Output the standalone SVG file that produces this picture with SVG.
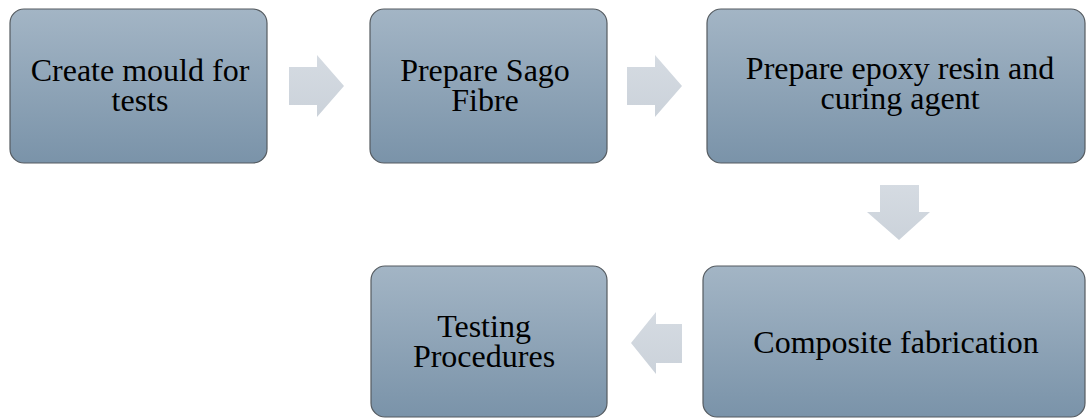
<svg xmlns="http://www.w3.org/2000/svg" width="1086" height="419" viewBox="0 0 1086 419">
<defs>
<linearGradient id="boxg" x1="0" y1="0" x2="0" y2="1">
<stop offset="0" stop-color="#a3b5c5"/>
<stop offset="1" stop-color="#7a93a9"/>
</linearGradient>
<linearGradient id="arrg" x1="0" y1="0" x2="0" y2="1">
<stop offset="0" stop-color="#d5dbe2"/>
<stop offset="1" stop-color="#cbd2da"/>
</linearGradient>
</defs>
<style>
.box{fill:url(#boxg);stroke:#555b60;stroke-width:1.2}
.lbl{font-family:"Liberation Serif","Times New Roman",serif;font-size:32px;fill:#000;text-anchor:middle}
.arr{fill:url(#arrg);stroke:none}
</style>
<rect width="1086" height="419" fill="#ffffff"/>
<g id="connectors">
<polygon class="arr" points="289,67 317,67 317,55 344,86 317,117 317,105 289,105"/>
<polygon class="arr" points="627,67 655,67 655,55 682,86 655,117 655,105 627,105"/>
<polygon class="arr" points="880,185 919,185 919,212 930,212 899,240 867,212 880,212"/>
<polygon class="arr" points="682,324 656,324 656,312 631,343 656,374 656,363 682,363"/>
</g>
<g id="node1">
<rect class="box" x="10" y="9" width="257" height="154" rx="14"/>
<text class="lbl" x="140" y="81">Create mould for</text>
<text class="lbl" x="140" y="111">tests</text>
</g>
<g id="node2">
<rect class="box" x="370" y="9" width="237" height="154" rx="14"/>
<text class="lbl" x="485" y="81">Prepare Sago</text>
<text class="lbl" x="485" y="111">Fibre</text>
</g>
<g id="node3">
<rect class="box" x="707" y="9" width="378" height="154" rx="14"/>
<text class="lbl" x="900" y="79">Prepare epoxy resin and</text>
<text class="lbl" x="900" y="109">curing agent</text>
</g>
<g id="node4">
<rect class="box" x="703" y="266" width="382" height="151" rx="14"/>
<text class="lbl" x="896" y="353">Composite fabrication</text>
</g>
<g id="node5">
<rect class="box" x="371" y="266" width="236" height="151" rx="14"/>
<text class="lbl" x="484" y="337">Testing</text>
<text class="lbl" x="484" y="367">Procedures</text>
</g>
</svg>
